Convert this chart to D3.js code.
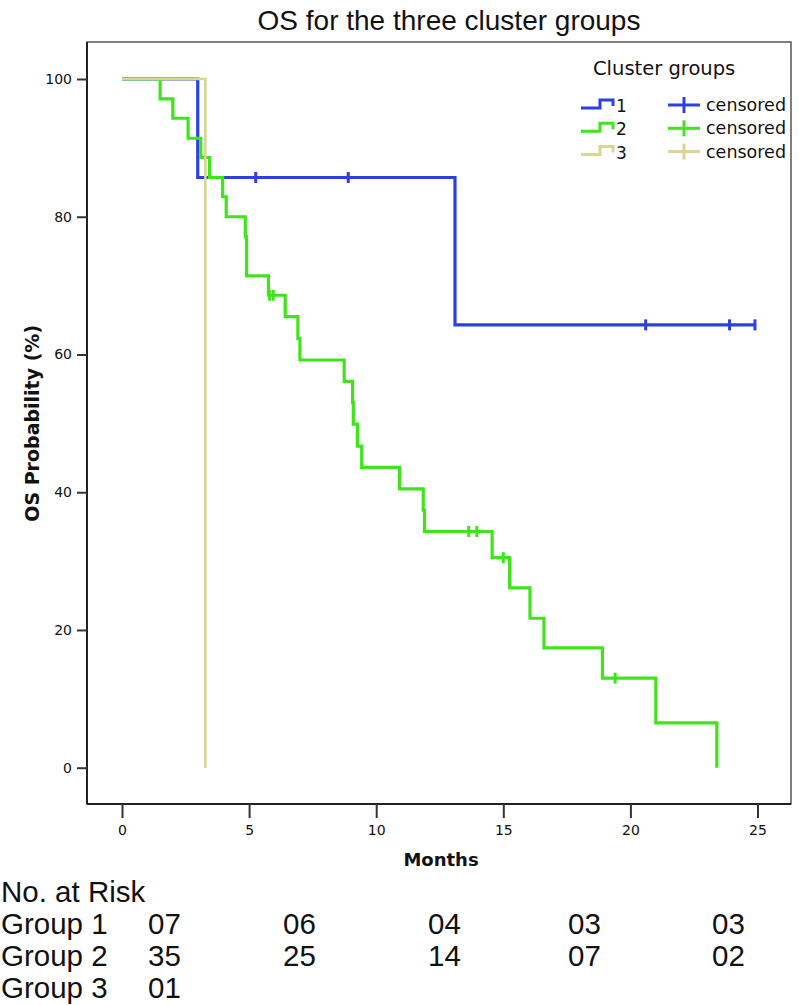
<!DOCTYPE html>
<html><head><meta charset="utf-8">
<script src="https://cdn.jsdelivr.net/npm/d3@7"></script>
<style>html,body{margin:0;padding:0;background:#fff;}</style>
</head><body>
<svg id="c" width="799" height="1005"></svg>
<script>
// ---- data ----
const title = "OS for the three cluster groups";
const xTicks = [0, 5, 10, 15, 20, 25];
const yTicks = [0, 20, 40, 60, 80, 100];
const groupNames = ["1", "2", "3"];
const groupColors = ["#2b3fe3", "#3fe41a", "#d8d690"];

const g1Times = [0, 2.98, 13.1, 24.9];
const g1Surv  = [100, 85.7, 64.3, 64.3];
const g1Censor = [5.26, 8.9, 20.6, 23.9, 24.9];

const g2Times = [0, 1.5, 2.0, 2.6, 3.1, 3.44, 3.96, 4.1, 4.85, 4.9, 5.76, 6.42, 6.92, 7.0, 8.74, 9.07, 9.1, 9.26, 9.43, 10.92, 11.85, 11.9, 14.56, 15.25, 16.05, 16.6, 18.9, 21.0, 23.4];
const g2Surv  = [100, 97.1, 94.3, 91.4, 88.6, 85.7, 82.9, 80.0, 77.1, 71.4, 68.6, 65.5, 62.3, 59.2, 56.1, 53.0, 49.9, 46.7, 43.6, 40.5, 37.4, 34.3, 30.5, 26.1, 21.7, 17.4, 13.0, 6.5, 0];
const g2Censor = [5.8, 5.95, 13.64, 13.96, 15.0, 19.4];

const g3Times = [0, 3.28];
const g3Surv  = [100, 0];
const g3Censor = [];

const riskTimes = [0, 5, 10, 15, 20];
const riskRows = ["Group 1", "Group 2", "Group 3"];
const risk1 = ["07", "06", "04", "03", "03"];
const risk2 = ["35", "25", "14", "07", "02"];
const risk3 = ["01"];

// ---- layout ----
const svg = d3.select("#c");
const frame = {l: 87, r: 791, t: 42, b: 804};
const x = d3.scaleLinear().domain([0, 25]).range([122, 757.5]);
const y = d3.scaleLinear().domain([0, 100]).range([767.7, 79]);

svg.append("text").attr("x", 449).attr("y", 30).attr("text-anchor", "middle")
  .attr("font-family", "Liberation Sans, Arial, sans-serif").attr("font-size", 28)
  .attr("fill", "#111").text(title);

// frame
svg.append("rect").attr("x", frame.l).attr("y", frame.t)
  .attr("width", frame.r - frame.l).attr("height", frame.b - frame.t)
  .attr("fill", "none").attr("stroke", "#555").attr("stroke-width", 1.5);
svg.append("line").attr("x1", frame.l).attr("x2", frame.l).attr("y1", frame.t).attr("y2", frame.b)
  .attr("stroke", "#222").attr("stroke-width", 2);
svg.append("line").attr("x1", frame.l).attr("x2", frame.r).attr("y1", frame.b).attr("y2", frame.b)
  .attr("stroke", "#222").attr("stroke-width", 2);

// axes
const xAxis = d3.axisBottom(x).tickValues(xTicks).tickSize(14).tickPadding(7).tickFormat(d3.format("d"));
const gx = svg.append("g").attr("transform", `translate(0,${frame.b})`).call(xAxis);
gx.select(".domain").remove();
gx.selectAll("line").attr("stroke", "#333").attr("stroke-width", 2);
gx.selectAll("text").attr("font-family", "DejaVu Sans, sans-serif").attr("font-size", 14).attr("fill", "#111");

const yAxis = d3.axisLeft(y).tickValues(yTicks).tickSize(10).tickPadding(5).tickFormat(d3.format("d"));
const gy = svg.append("g").attr("transform", `translate(${frame.l},0)`).call(yAxis);
gy.select(".domain").remove();
gy.selectAll("line").attr("stroke", "#333").attr("stroke-width", 2);
gy.selectAll("text").attr("font-family", "DejaVu Sans, sans-serif").attr("font-size", 14).attr("fill", "#111");

svg.append("text").attr("transform", `translate(39,${(y(0)+y(100))/2}) rotate(-90)`)
  .attr("text-anchor", "middle").attr("font-family", "DejaVu Sans, sans-serif")
  .attr("font-weight", "bold").attr("font-size", 19).attr("fill", "#111").text("OS Probability (%)");
svg.append("text").attr("x", 441).attr("y", 866).attr("text-anchor", "middle")
  .attr("font-family", "DejaVu Sans, sans-serif").attr("font-weight", "bold")
  .attr("font-size", 18).attr("fill", "#111").text("Months");

// curves
const groups = [
  {times: g1Times, surv: g1Surv, cens: g1Censor},
  {times: g2Times, surv: g2Surv, cens: g2Censor},
  {times: g3Times, surv: g3Surv, cens: g3Censor}
];
const line = d3.line().x(d => x(d[0])).y(d => y(d[1])).curve(d3.curveStepAfter);
function survAt(g, t) {
  let s = g.surv[0];
  for (let i = 0; i < g.times.length; i++) if (g.times[i] <= t) s = g.surv[i];
  return s;
}
[0, 1, 2].forEach(gi => {
  const g = groups[gi];
  const pts = g.times.map((t, i) => [t, g.surv[i]]);
  svg.append("path").attr("d", line(pts)).attr("fill", "none")
    .attr("stroke", groupColors[gi]).attr("stroke-width", gi === 2 ? 2.6 : 3.2);
  g.cens.forEach(t => {
    const cx = x(t), cy = y(survAt(g, t));
    svg.append("line").attr("x1", cx).attr("x2", cx).attr("y1", cy - 5.5).attr("y2", cy + 5.5)
      .attr("stroke", groupColors[gi]).attr("stroke-width", 3);
  });
});

// legend
const lg = svg.append("g");
lg.append("text").attr("x", 593).attr("y", 75).attr("font-family", "DejaVu Sans, sans-serif")
  .attr("font-size", 19.5).attr("fill", "#111").text("Cluster groups");
groupNames.forEach((nm, i) => {
  const ry = 105 + i * 23.3;
  lg.append("path").attr("d", `M581,${ry+3} H600 V${ry-5} H613 V${ry+1}`)
    .attr("fill", "none").attr("stroke", groupColors[i]).attr("stroke-width", 3);
  lg.append("text").attr("x", 616).attr("y", ry + 7).attr("font-family", "DejaVu Sans, sans-serif")
    .attr("font-size", 17).attr("fill", "#111").text(nm);
  lg.append("line").attr("x1", 668).attr("x2", 700).attr("y1", ry).attr("y2", ry)
    .attr("stroke", groupColors[i]).attr("stroke-width", 3);
  lg.append("line").attr("x1", 684).attr("x2", 684).attr("y1", ry - 8).attr("y2", ry + 8)
    .attr("stroke", groupColors[i]).attr("stroke-width", 3);
  lg.append("text").attr("x", 706).attr("y", ry + 6).attr("font-family", "DejaVu Sans, sans-serif")
    .attr("font-size", 17.5).attr("fill", "#111").text("censored");
});

// at-risk table
const rf = "Liberation Sans, Arial, sans-serif";
const rfs = 29.5;
const colX = [148, 283, 428, 568, 712];
svg.append("text").attr("x", 1).attr("y", 902).attr("font-family", rf).attr("font-size", rfs)
  .attr("fill", "#111").text("No. at Risk");
[risk1, risk2, risk3].forEach((row, ri) => {
  const by = 933.5 + ri * 32;
  svg.append("text").attr("x", 1).attr("y", by).attr("font-family", rf).attr("font-size", rfs)
    .attr("fill", "#111").text(riskRows[ri]);
  row.forEach((v, ci) => {
    svg.append("text").attr("x", colX[ci]).attr("y", by).attr("font-family", rf).attr("font-size", rfs)
      .attr("fill", "#111").text(v);
  });
});
</script>
</body></html>
